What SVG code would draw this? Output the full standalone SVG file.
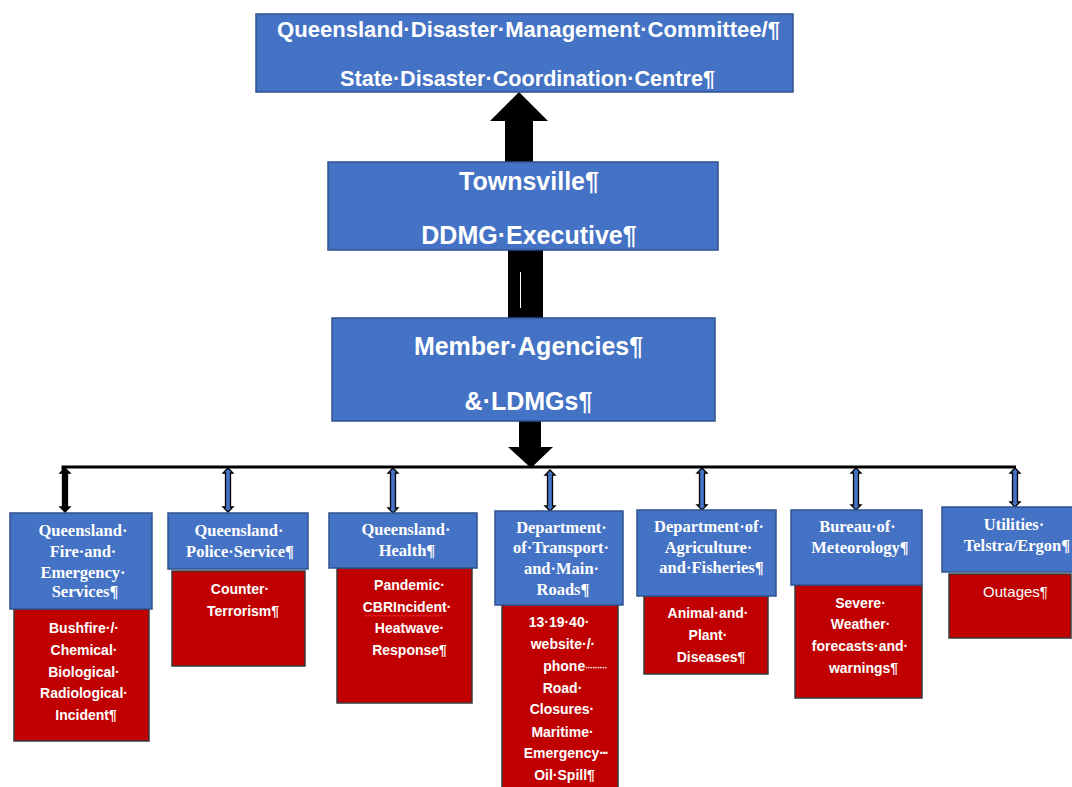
<svg xmlns="http://www.w3.org/2000/svg" width="1072" height="787" viewBox="0 0 1072 787">
  <style>
    .blue { fill: #4472C4; stroke: #2F528F; stroke-width: 1.5; }
    .red { fill: #C00000; stroke: #3A3A3A; stroke-width: 1.5; }
    .big { font-family: "Liberation Sans", Arial, sans-serif; font-weight: bold; fill: #FFFFFF; text-anchor: middle; }
    .hdr { font-family: "Liberation Serif", "Times New Roman", serif; font-weight: bold; font-size: 16.5px; fill: #FFFFFF; text-anchor: middle; }
    .sub { font-family: "Liberation Sans", Arial, sans-serif; font-weight: bold; font-size: 14px; fill: #FFFFFF; text-anchor: middle; }
    .reg { font-family: "Liberation Sans", Arial, sans-serif; font-weight: normal; font-size: 15px; fill: #FFFFFF; text-anchor: middle; }
    .dbl { fill: #4472C4; stroke: #000000; stroke-width: 1.3; stroke-linejoin: miter; }
    .dbl.dark { fill: #000000; }
  </style>

  <!-- connectors -->
  <g id="connectors">
    <!-- Townsville up to the state committee -->
    <polygon points="519,92 548,121 533,121 533,163 505,163 505,121 490,121" fill="#000000"/>
    <!-- Townsville to member agencies -->
    <rect x="508" y="249" width="35" height="70" fill="#000000"/>
    <line x1="520.5" y1="272" x2="520.5" y2="308" stroke="#FFFFFF" stroke-width="1"/>
    <!-- member agencies down to the distribution bar -->
    <polygon points="519,421 541,421 541,447 553,447 531,468 508,447 519,447" fill="#000000"/>
    <!-- distribution bar -->
    <polyline points="63,470 63,467 1016,467" fill="none" stroke="#000000" stroke-width="3"/>
    <!-- two-way links to each agency -->
    <polygon class="dbl dark" points="65,468 70,473 67.5,473 67.5,507 70,507 65,512 60,507 62.5,507 62.5,473 60,473"/>
    <polygon class="dbl" points="228,468 233,473 230.5,473 230.5,507 233,507 228,512 223,507 225.5,507 225.5,473 223,473"/>
    <polygon class="dbl" points="393,468 398,473 395.5,473 395.5,508 398,508 393,513 388,508 390.5,508 390.5,473 388,473"/>
    <polygon class="dbl" points="550,470 555,475 552.5,475 552.5,506 555,506 550,511 545,506 547.5,506 547.5,475 545,475"/>
    <polygon class="dbl" points="702,468 707,473 704.5,473 704.5,505 707,505 702,510 697,505 699.5,505 699.5,473 697,473"/>
    <polygon class="dbl" points="856,468 861,473 858.5,473 858.5,505 861,505 856,510 851,505 853.5,505 853.5,473 851,473"/>
    <polygon class="dbl" points="1015,468 1020,473 1017.5,473 1017.5,502 1020,502 1015,507 1010,502 1012.5,502 1012.5,473 1010,473"/>
  </g>

  <!-- state level -->
  <g id="node-qdmc">
    <rect class="blue" x="256" y="14" width="537" height="78"/>
    <text class="big" x="528.5" y="37" font-size="21.6" textLength="503" lengthAdjust="spacingAndGlyphs">Queensland·Disaster·Management·Committee/¶</text>
    <text class="big" x="527.5" y="86" font-size="21.6" textLength="375" lengthAdjust="spacingAndGlyphs">State·Disaster·Coordination·Centre¶</text>
  </g>

  <!-- district level -->
  <g id="node-townsville">
    <rect class="blue" x="328" y="162" width="390" height="88"/>
    <text class="big" x="529" y="190" font-size="25">Townsville¶</text>
    <text class="big" x="529" y="244" font-size="25">DDMG·Executive¶</text>
  </g>

  <g id="node-members">
    <rect class="blue" x="332" y="318" width="383" height="103"/>
    <text class="big" x="528.5" y="355" font-size="25">Member·Agencies¶</text>
    <text class="big" x="528.5" y="410" font-size="25">&amp;·LDMGs¶</text>
  </g>

  <!-- agencies -->
  <g id="node-qfes">
    <rect class="red" x="14" y="609" width="135" height="132"/>
    <rect class="blue" x="10" y="513" width="142" height="96"/>
    <text class="hdr" x="83" y="536">Queensland·</text>
    <text class="hdr" x="83" y="557">Fire·and·</text>
    <text class="hdr" x="83" y="578">Emergency·</text>
    <text class="hdr" x="85" y="597">Services¶</text>
    <text class="sub" x="84" y="633">Bushfire·/·</text>
    <text class="sub" x="84" y="655">Chemical·</text>
    <text class="sub" x="84" y="677">Biological·</text>
    <text class="sub" x="84" y="698">Radiological·</text>
    <text class="sub" x="86" y="720">Incident¶</text>
  </g>

  <g id="node-qps">
    <rect class="red" x="172" y="571" width="133" height="95"/>
    <rect class="blue" x="168" y="513" width="140" height="56"/>
    <text class="hdr" x="239" y="536">Queensland·</text>
    <text class="hdr" x="240" y="557">Police·Service¶</text>
    <text class="sub" x="240" y="594">Counter·</text>
    <text class="sub" x="243" y="616">Terrorism¶</text>
  </g>

  <g id="node-qh">
    <rect class="red" x="337" y="568" width="135" height="135"/>
    <rect class="blue" x="329" y="513" width="148" height="55"/>
    <text class="hdr" x="406" y="535">Queensland·</text>
    <text class="hdr" x="407" y="556">Health¶</text>
    <text class="sub" x="409.5" y="590">Pandemic·</text>
    <text class="sub" x="407" y="612">CBRIncident·</text>
    <path d="M364,616.5 l2,-1.5 l2,1.5 l2,-1.5 l2,1.5 l2,-1.5 l2,1.5 l2,-1.5 l2,1.5 l2,-1.5 l2,1.5 l2,-1.5 l2,1.5 l2,-1.5 l2,1.5 l2,-1.5 l2,1.5 l2,-1.5 l2,1.5 l2,-1.5 l2,1.5 l2,-1.5 l2,1.5 l2,-1.5 l2,1.5 l2,-1.5 l2,1.5 l2,-1.5 l2,1.5 l2,-1.5 l2,1.5 l2,-1.5 l2,1.5 l2,-1.5 l2,1.5 l2,-1.5 l2,1.5 l2,-1.5 l2,1.5 l2,-1.5" fill="none" stroke="#FF3030" stroke-width="0.8"/>
    <text class="sub" x="409.5" y="633">Heatwave·</text>
    <text class="sub" x="409.5" y="655">Response¶</text>
  </g>

  <g id="node-tmr">
    <rect class="red" x="502" y="605" width="116" height="186"/>
    <rect class="blue" x="495" y="511" width="128" height="94"/>
    <text class="hdr" x="561.5" y="533">Department·</text>
    <text class="hdr" x="561" y="553">of·Transport·</text>
    <text class="hdr" x="561.5" y="574">and·Main·</text>
    <text class="hdr" x="563" y="595">Roads¶</text>
    <text class="sub" x="559" y="627">13·19·40·</text>
    <text class="sub" x="563" y="649">website·/·</text>
    <text class="sub" x="575" y="671">phone<tspan font-size="9" letter-spacing="-0.6">·········</tspan></text>
    <text class="sub" x="562.5" y="693">Road·</text>
    <text class="sub" x="562" y="714">Closures·</text>
    <text class="sub" x="562.5" y="737">Maritime·</text>
    <text class="sub" x="565.5" y="758">Emergency<tspan letter-spacing="-2">···</tspan></text>
    <text class="sub" x="564.5" y="780">Oil·Spill¶</text>
  </g>

  <g id="node-daf">
    <rect class="red" x="644" y="596" width="124" height="78"/>
    <rect class="blue" x="637" y="510" width="139" height="86"/>
    <text class="hdr" x="709" y="532">Department·of·</text>
    <text class="hdr" x="708.5" y="553">Agriculture·</text>
    <text class="hdr" x="711.5" y="573">and·Fisheries¶</text>
    <text class="sub" x="708" y="618">Animal·and·</text>
    <text class="sub" x="708" y="640">Plant·</text>
    <text class="sub" x="711" y="662">Diseases¶</text>
  </g>

  <g id="node-bom">
    <rect class="red" x="795" y="585" width="127" height="113"/>
    <rect class="blue" x="791" y="510" width="131" height="75"/>
    <text class="hdr" x="857.5" y="532">Bureau·of·</text>
    <text class="hdr" x="860" y="553">Meteorology¶</text>
    <text class="sub" x="860.5" y="608">Severe·</text>
    <text class="sub" x="860.5" y="629">Weather·</text>
    <text class="sub" x="860" y="651">forecasts·and·</text>
    <text class="sub" x="863.5" y="673">warnings¶</text>
  </g>

  <g id="node-utilities">
    <rect class="red" x="949" y="574" width="122" height="64"/>
    <rect class="blue" x="942" y="507" width="134" height="65"/>
    <text class="hdr" x="1014" y="530">Utilities·</text>
    <text class="hdr" x="1017" y="551">Telstra/Ergon¶</text>
    <text class="reg" x="1015.5" y="597">Outages¶</text>
  </g>
</svg>
